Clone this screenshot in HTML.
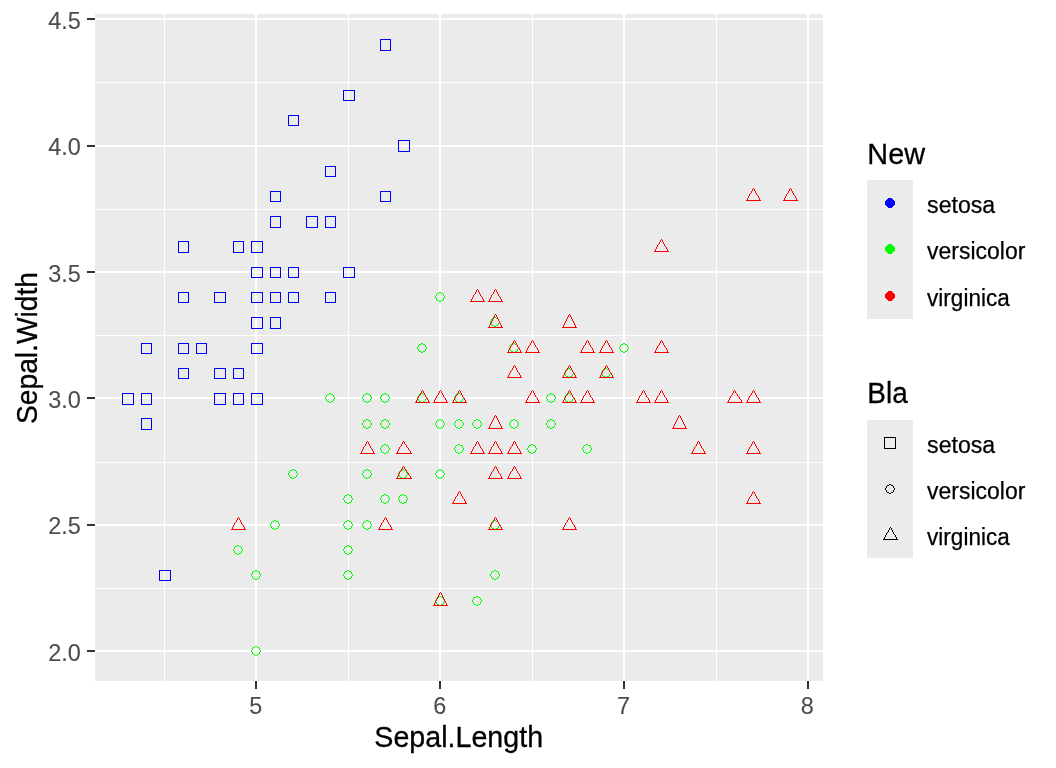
<!DOCTYPE html>
<html><head><meta charset="utf-8"><title>iris</title>
<style>html,body{margin:0;padding:0;background:#fff}svg{display:block}text{font-family:"Liberation Sans",sans-serif}</style>
</head><body>
<svg width="1056" height="768" viewBox="0 0 1056 768">
<rect width="1056" height="768" fill="#fff"/>
<rect x="95" y="14" width="728" height="667" fill="#EBEBEB" shape-rendering="crispEdges"/>
<g fill="#fff" shape-rendering="crispEdges">
<rect x="95" y="588" width="728" height="1"/>
<rect x="95" y="462" width="728" height="1"/>
<rect x="95" y="335" width="728" height="1"/>
<rect x="95" y="209" width="728" height="1"/>
<rect x="95" y="82" width="728" height="1"/>
<rect x="164" y="14" width="1" height="667"/>
<rect x="348" y="14" width="1" height="667"/>
<rect x="532" y="14" width="1" height="667"/>
<rect x="716" y="14" width="1" height="667"/>
<rect x="95" y="650" width="728" height="2"/>
<rect x="95" y="524" width="728" height="2"/>
<rect x="95" y="397" width="728" height="2"/>
<rect x="95" y="271" width="728" height="2"/>
<rect x="95" y="145" width="728" height="2"/>
<rect x="95" y="18" width="728" height="2"/>
<rect x="255" y="14" width="2" height="667"/>
<rect x="439" y="14" width="2" height="667"/>
<rect x="623" y="14" width="2" height="667"/>
<rect x="807" y="14" width="2" height="667"/>
</g>
<g fill="#333" shape-rendering="crispEdges">
<rect x="87" y="650" width="8" height="2"/>
<rect x="87" y="524" width="8" height="2"/>
<rect x="87" y="397" width="8" height="2"/>
<rect x="87" y="271" width="8" height="2"/>
<rect x="87" y="145" width="8" height="2"/>
<rect x="87" y="18" width="8" height="2"/>
<rect x="255" y="681" width="2" height="8"/>
<rect x="439" y="681" width="2" height="8"/>
<rect x="623" y="681" width="2" height="8"/>
<rect x="807" y="681" width="2" height="8"/>
</g>
<g fill="#4D4D4D" font-size="23.47px" stroke="#4D4D4D" stroke-width="0.1">
<text x="80.8" y="660.7" text-anchor="end">2.0</text>
<text x="80.8" y="534.3" text-anchor="end">2.5</text>
<text x="80.8" y="407.9" text-anchor="end">3.0</text>
<text x="80.8" y="281.5" text-anchor="end">3.5</text>
<text x="80.8" y="155.1" text-anchor="end">4.0</text>
<text x="80.8" y="28.7" text-anchor="end">4.5</text>
<text x="255.8" y="714" text-anchor="middle">5</text>
<text x="439.7" y="714" text-anchor="middle">6</text>
<text x="623.5" y="714" text-anchor="middle">7</text>
<text x="807.4" y="714" text-anchor="middle">8</text>
</g>
<text x="458.7" y="747.2" font-size="29.33px" text-anchor="middle" fill="#000" stroke="#000" stroke-width="0.3" textLength="168.8" lengthAdjust="spacingAndGlyphs">Sepal.Length</text>
<text transform="translate(37.1,348) rotate(-90)" font-size="29.33px" text-anchor="middle" fill="#000" stroke="#000" stroke-width="0.3" textLength="152.1" lengthAdjust="spacingAndGlyphs">Sepal.Width</text>
<g fill="none" stroke-width="1" shape-rendering="crispEdges">
<rect x="270.5" y="267.5" width="10" height="10" stroke="#0000FF"/>
<rect x="233.5" y="393.5" width="10" height="11" stroke="#0000FF"/>
<rect x="196.5" y="343.5" width="10" height="10" stroke="#0000FF"/>
<rect x="178.5" y="368.5" width="10" height="10" stroke="#0000FF"/>
<rect x="251.5" y="241.5" width="11" height="11" stroke="#0000FF"/>
<rect x="325.5" y="166.5" width="10" height="10" stroke="#0000FF"/>
<rect x="178.5" y="292.5" width="10" height="10" stroke="#0000FF"/>
<rect x="251.5" y="292.5" width="11" height="10" stroke="#0000FF"/>
<rect x="141.5" y="418.5" width="10" height="11" stroke="#0000FF"/>
<rect x="233.5" y="368.5" width="10" height="10" stroke="#0000FF"/>
<rect x="325.5" y="216.5" width="10" height="11" stroke="#0000FF"/>
<rect x="214.5" y="292.5" width="11" height="10" stroke="#0000FF"/>
<rect x="214.5" y="393.5" width="11" height="11" stroke="#0000FF"/>
<rect x="122.5" y="393.5" width="11" height="11" stroke="#0000FF"/>
<rect x="398.5" y="140.5" width="11" height="11" stroke="#0000FF"/>
<rect x="380.5" y="39.5" width="10" height="11" stroke="#0000FF"/>
<rect x="325.5" y="166.5" width="10" height="10" stroke="#0000FF"/>
<rect x="270.5" y="267.5" width="10" height="10" stroke="#0000FF"/>
<rect x="380.5" y="191.5" width="10" height="10" stroke="#0000FF"/>
<rect x="270.5" y="191.5" width="10" height="10" stroke="#0000FF"/>
<rect x="325.5" y="292.5" width="10" height="10" stroke="#0000FF"/>
<rect x="270.5" y="216.5" width="10" height="11" stroke="#0000FF"/>
<rect x="178.5" y="241.5" width="10" height="11" stroke="#0000FF"/>
<rect x="270.5" y="317.5" width="10" height="11" stroke="#0000FF"/>
<rect x="214.5" y="292.5" width="11" height="10" stroke="#0000FF"/>
<rect x="251.5" y="393.5" width="11" height="11" stroke="#0000FF"/>
<rect x="251.5" y="292.5" width="11" height="10" stroke="#0000FF"/>
<rect x="288.5" y="267.5" width="10" height="10" stroke="#0000FF"/>
<rect x="288.5" y="292.5" width="10" height="10" stroke="#0000FF"/>
<rect x="196.5" y="343.5" width="10" height="10" stroke="#0000FF"/>
<rect x="214.5" y="368.5" width="11" height="10" stroke="#0000FF"/>
<rect x="325.5" y="292.5" width="10" height="10" stroke="#0000FF"/>
<rect x="288.5" y="115.5" width="10" height="10" stroke="#0000FF"/>
<rect x="343.5" y="90.5" width="11" height="10" stroke="#0000FF"/>
<rect x="233.5" y="368.5" width="10" height="10" stroke="#0000FF"/>
<rect x="251.5" y="343.5" width="11" height="10" stroke="#0000FF"/>
<rect x="343.5" y="267.5" width="11" height="10" stroke="#0000FF"/>
<rect x="233.5" y="241.5" width="10" height="11" stroke="#0000FF"/>
<rect x="141.5" y="393.5" width="10" height="11" stroke="#0000FF"/>
<rect x="270.5" y="292.5" width="10" height="10" stroke="#0000FF"/>
<rect x="251.5" y="267.5" width="11" height="10" stroke="#0000FF"/>
<rect x="159.5" y="570.5" width="11" height="10" stroke="#0000FF"/>
<rect x="141.5" y="343.5" width="10" height="10" stroke="#0000FF"/>
<rect x="251.5" y="267.5" width="11" height="10" stroke="#0000FF"/>
<rect x="270.5" y="191.5" width="10" height="10" stroke="#0000FF"/>
<rect x="214.5" y="393.5" width="11" height="11" stroke="#0000FF"/>
<rect x="270.5" y="191.5" width="10" height="10" stroke="#0000FF"/>
<rect x="178.5" y="343.5" width="10" height="10" stroke="#0000FF"/>
<rect x="306.5" y="216.5" width="11" height="11" stroke="#0000FF"/>
<rect x="251.5" y="317.5" width="11" height="11" stroke="#0000FF"/>
<path d="M623 343h2v1h-2zM621 344h2v1h-2zM625 344h2v1h-2zM620 345h1v1h-1zM627 345h1v1h-1zM620 346h1v1h-1zM627 346h1v1h-1zM619 347h1v1h-1zM628 347h1v1h-1zM619 348h1v1h-1zM628 348h1v1h-1zM620 349h1v1h-1zM627 349h1v1h-1zM620 350h1v1h-1zM627 350h1v1h-1zM621 351h2v1h-2zM625 351h2v1h-2zM623 352h2v1h-2z" fill="#00FF00" stroke="none"/>
<path d="M513 343h2v1h-2zM511 344h2v1h-2zM515 344h2v1h-2zM510 345h1v1h-1zM517 345h1v1h-1zM510 346h1v1h-1zM517 346h1v1h-1zM509 347h1v1h-1zM518 347h1v1h-1zM509 348h1v1h-1zM518 348h1v1h-1zM510 349h1v1h-1zM517 349h1v1h-1zM510 350h1v1h-1zM517 350h1v1h-1zM511 351h2v1h-2zM515 351h2v1h-2zM513 352h2v1h-2z" fill="#00FF00" stroke="none"/>
<path d="M605 368h2v1h-2zM603 369h2v1h-2zM607 369h2v1h-2zM602 370h1v1h-1zM609 370h1v1h-1zM602 371h1v1h-1zM609 371h1v1h-1zM601 372h1v1h-1zM610 372h1v1h-1zM601 373h1v1h-1zM610 373h1v1h-1zM602 374h1v1h-1zM609 374h1v1h-1zM602 375h1v1h-1zM609 375h1v1h-1zM603 376h2v1h-2zM607 376h2v1h-2zM605 377h2v1h-2z" fill="#00FF00" stroke="none"/>
<path d="M347 570h2v1h-2zM345 571h2v1h-2zM349 571h2v1h-2zM344 572h1v1h-1zM351 572h1v1h-1zM344 573h1v1h-1zM351 573h1v1h-1zM343 574h1v1h-1zM352 574h1v1h-1zM343 575h1v1h-1zM352 575h1v1h-1zM344 576h1v1h-1zM351 576h1v1h-1zM344 577h1v1h-1zM351 577h1v1h-1zM345 578h2v1h-2zM349 578h2v1h-2zM347 579h2v1h-2z" fill="#00FF00" stroke="none"/>
<path d="M531 444h2v1h-2zM529 445h2v1h-2zM533 445h2v1h-2zM528 446h1v1h-1zM535 446h1v1h-1zM528 447h1v1h-1zM535 447h1v1h-1zM527 448h1v1h-1zM536 448h1v1h-1zM527 449h1v1h-1zM536 449h1v1h-1zM528 450h1v1h-1zM535 450h1v1h-1zM528 451h1v1h-1zM535 451h1v1h-1zM529 452h2v1h-2zM533 452h2v1h-2zM531 453h2v1h-2z" fill="#00FF00" stroke="none"/>
<path d="M384 444h2v1h-2zM382 445h2v1h-2zM386 445h2v1h-2zM381 446h1v1h-1zM388 446h1v1h-1zM381 447h1v1h-1zM388 447h1v1h-1zM380 448h1v1h-1zM389 448h1v1h-1zM380 449h1v1h-1zM389 449h1v1h-1zM381 450h1v1h-1zM388 450h1v1h-1zM381 451h1v1h-1zM388 451h1v1h-1zM382 452h2v1h-2zM386 452h2v1h-2zM384 453h2v1h-2z" fill="#00FF00" stroke="none"/>
<path d="M494 317h2v1h-2zM492 318h2v1h-2zM496 318h2v1h-2zM491 319h1v1h-1zM498 319h1v1h-1zM491 320h1v1h-1zM498 320h1v1h-1zM490 321h1v1h-1zM499 321h1v1h-1zM490 322h1v1h-1zM499 322h1v1h-1zM491 323h1v1h-1zM498 323h1v1h-1zM491 324h1v1h-1zM498 324h1v1h-1zM492 325h2v1h-2zM496 325h2v1h-2zM494 326h2v1h-2z" fill="#00FF00" stroke="none"/>
<path d="M237 545h2v1h-2zM235 546h2v1h-2zM239 546h2v1h-2zM234 547h1v1h-1zM241 547h1v1h-1zM234 548h1v1h-1zM241 548h1v1h-1zM233 549h1v1h-1zM242 549h1v1h-1zM233 550h1v1h-1zM242 550h1v1h-1zM234 551h1v1h-1zM241 551h1v1h-1zM234 552h1v1h-1zM241 552h1v1h-1zM235 553h2v1h-2zM239 553h2v1h-2zM237 554h2v1h-2z" fill="#00FF00" stroke="none"/>
<path d="M550 419h2v1h-2zM548 420h2v1h-2zM552 420h2v1h-2zM547 421h1v1h-1zM554 421h1v1h-1zM547 422h1v1h-1zM554 422h1v1h-1zM546 423h1v1h-1zM555 423h1v1h-1zM546 424h1v1h-1zM555 424h1v1h-1zM547 425h1v1h-1zM554 425h1v1h-1zM547 426h1v1h-1zM554 426h1v1h-1zM548 427h2v1h-2zM552 427h2v1h-2zM550 428h2v1h-2z" fill="#00FF00" stroke="none"/>
<path d="M292 469h2v1h-2zM290 470h2v1h-2zM294 470h2v1h-2zM289 471h1v1h-1zM296 471h1v1h-1zM289 472h1v1h-1zM296 472h1v1h-1zM288 473h1v1h-1zM297 473h1v1h-1zM288 474h1v1h-1zM297 474h1v1h-1zM289 475h1v1h-1zM296 475h1v1h-1zM289 476h1v1h-1zM296 476h1v1h-1zM290 477h2v1h-2zM294 477h2v1h-2zM292 478h2v1h-2z" fill="#00FF00" stroke="none"/>
<path d="M255 646h2v1h-2zM253 647h2v1h-2zM257 647h2v1h-2zM252 648h1v1h-1zM259 648h1v1h-1zM252 649h1v1h-1zM259 649h1v1h-1zM251 650h1v1h-1zM260 650h1v1h-1zM251 651h1v1h-1zM260 651h1v1h-1zM252 652h1v1h-1zM259 652h1v1h-1zM252 653h1v1h-1zM259 653h1v1h-1zM253 654h2v1h-2zM257 654h2v1h-2zM255 655h2v1h-2z" fill="#00FF00" stroke="none"/>
<path d="M421 393h2v1h-2zM419 394h2v1h-2zM423 394h2v1h-2zM418 395h1v1h-1zM425 395h1v1h-1zM418 396h1v1h-1zM425 396h1v1h-1zM417 397h1v1h-1zM426 397h1v1h-1zM417 398h1v1h-1zM426 398h1v1h-1zM418 399h1v1h-1zM425 399h1v1h-1zM418 400h1v1h-1zM425 400h1v1h-1zM419 401h2v1h-2zM423 401h2v1h-2zM421 402h2v1h-2z" fill="#00FF00" stroke="none"/>
<path d="M439 596h2v1h-2zM437 597h2v1h-2zM441 597h2v1h-2zM436 598h1v1h-1zM443 598h1v1h-1zM436 599h1v1h-1zM443 599h1v1h-1zM435 600h1v1h-1zM444 600h1v1h-1zM435 601h1v1h-1zM444 601h1v1h-1zM436 602h1v1h-1zM443 602h1v1h-1zM436 603h1v1h-1zM443 603h1v1h-1zM437 604h2v1h-2zM441 604h2v1h-2zM439 605h2v1h-2z" fill="#00FF00" stroke="none"/>
<path d="M458 419h2v1h-2zM456 420h2v1h-2zM460 420h2v1h-2zM455 421h1v1h-1zM462 421h1v1h-1zM455 422h1v1h-1zM462 422h1v1h-1zM454 423h1v1h-1zM463 423h1v1h-1zM454 424h1v1h-1zM463 424h1v1h-1zM455 425h1v1h-1zM462 425h1v1h-1zM455 426h1v1h-1zM462 426h1v1h-1zM456 427h2v1h-2zM460 427h2v1h-2zM458 428h2v1h-2z" fill="#00FF00" stroke="none"/>
<path d="M366 419h2v1h-2zM364 420h2v1h-2zM368 420h2v1h-2zM363 421h1v1h-1zM370 421h1v1h-1zM363 422h1v1h-1zM370 422h1v1h-1zM362 423h1v1h-1zM371 423h1v1h-1zM362 424h1v1h-1zM371 424h1v1h-1zM363 425h1v1h-1zM370 425h1v1h-1zM363 426h1v1h-1zM370 426h1v1h-1zM364 427h2v1h-2zM368 427h2v1h-2zM366 428h2v1h-2z" fill="#00FF00" stroke="none"/>
<path d="M568 368h2v1h-2zM566 369h2v1h-2zM570 369h2v1h-2zM565 370h1v1h-1zM572 370h1v1h-1zM565 371h1v1h-1zM572 371h1v1h-1zM564 372h1v1h-1zM573 372h1v1h-1zM564 373h1v1h-1zM573 373h1v1h-1zM565 374h1v1h-1zM572 374h1v1h-1zM565 375h1v1h-1zM572 375h1v1h-1zM566 376h2v1h-2zM570 376h2v1h-2zM568 377h2v1h-2z" fill="#00FF00" stroke="none"/>
<path d="M366 393h2v1h-2zM364 394h2v1h-2zM368 394h2v1h-2zM363 395h1v1h-1zM370 395h1v1h-1zM363 396h1v1h-1zM370 396h1v1h-1zM362 397h1v1h-1zM371 397h1v1h-1zM362 398h1v1h-1zM371 398h1v1h-1zM363 399h1v1h-1zM370 399h1v1h-1zM363 400h1v1h-1zM370 400h1v1h-1zM364 401h2v1h-2zM368 401h2v1h-2zM366 402h2v1h-2z" fill="#00FF00" stroke="none"/>
<path d="M402 469h2v1h-2zM400 470h2v1h-2zM404 470h2v1h-2zM399 471h1v1h-1zM406 471h1v1h-1zM399 472h1v1h-1zM406 472h1v1h-1zM398 473h1v1h-1zM407 473h1v1h-1zM398 474h1v1h-1zM407 474h1v1h-1zM399 475h1v1h-1zM406 475h1v1h-1zM399 476h1v1h-1zM406 476h1v1h-1zM400 477h2v1h-2zM404 477h2v1h-2zM402 478h2v1h-2z" fill="#00FF00" stroke="none"/>
<path d="M476 596h2v1h-2zM474 597h2v1h-2zM478 597h2v1h-2zM473 598h1v1h-1zM480 598h1v1h-1zM473 599h1v1h-1zM480 599h1v1h-1zM472 600h1v1h-1zM481 600h1v1h-1zM472 601h1v1h-1zM481 601h1v1h-1zM473 602h1v1h-1zM480 602h1v1h-1zM473 603h1v1h-1zM480 603h1v1h-1zM474 604h2v1h-2zM478 604h2v1h-2zM476 605h2v1h-2z" fill="#00FF00" stroke="none"/>
<path d="M366 520h2v1h-2zM364 521h2v1h-2zM368 521h2v1h-2zM363 522h1v1h-1zM370 522h1v1h-1zM363 523h1v1h-1zM370 523h1v1h-1zM362 524h1v1h-1zM371 524h1v1h-1zM362 525h1v1h-1zM371 525h1v1h-1zM363 526h1v1h-1zM370 526h1v1h-1zM363 527h1v1h-1zM370 527h1v1h-1zM364 528h2v1h-2zM368 528h2v1h-2zM366 529h2v1h-2z" fill="#00FF00" stroke="none"/>
<path d="M421 343h2v1h-2zM419 344h2v1h-2zM423 344h2v1h-2zM418 345h1v1h-1zM425 345h1v1h-1zM418 346h1v1h-1zM425 346h1v1h-1zM417 347h1v1h-1zM426 347h1v1h-1zM417 348h1v1h-1zM426 348h1v1h-1zM418 349h1v1h-1zM425 349h1v1h-1zM418 350h1v1h-1zM425 350h1v1h-1zM419 351h2v1h-2zM423 351h2v1h-2zM421 352h2v1h-2z" fill="#00FF00" stroke="none"/>
<path d="M458 444h2v1h-2zM456 445h2v1h-2zM460 445h2v1h-2zM455 446h1v1h-1zM462 446h1v1h-1zM455 447h1v1h-1zM462 447h1v1h-1zM454 448h1v1h-1zM463 448h1v1h-1zM454 449h1v1h-1zM463 449h1v1h-1zM455 450h1v1h-1zM462 450h1v1h-1zM455 451h1v1h-1zM462 451h1v1h-1zM456 452h2v1h-2zM460 452h2v1h-2zM458 453h2v1h-2z" fill="#00FF00" stroke="none"/>
<path d="M494 520h2v1h-2zM492 521h2v1h-2zM496 521h2v1h-2zM491 522h1v1h-1zM498 522h1v1h-1zM491 523h1v1h-1zM498 523h1v1h-1zM490 524h1v1h-1zM499 524h1v1h-1zM490 525h1v1h-1zM499 525h1v1h-1zM491 526h1v1h-1zM498 526h1v1h-1zM491 527h1v1h-1zM498 527h1v1h-1zM492 528h2v1h-2zM496 528h2v1h-2zM494 529h2v1h-2z" fill="#00FF00" stroke="none"/>
<path d="M458 444h2v1h-2zM456 445h2v1h-2zM460 445h2v1h-2zM455 446h1v1h-1zM462 446h1v1h-1zM455 447h1v1h-1zM462 447h1v1h-1zM454 448h1v1h-1zM463 448h1v1h-1zM454 449h1v1h-1zM463 449h1v1h-1zM455 450h1v1h-1zM462 450h1v1h-1zM455 451h1v1h-1zM462 451h1v1h-1zM456 452h2v1h-2zM460 452h2v1h-2zM458 453h2v1h-2z" fill="#00FF00" stroke="none"/>
<path d="M513 419h2v1h-2zM511 420h2v1h-2zM515 420h2v1h-2zM510 421h1v1h-1zM517 421h1v1h-1zM510 422h1v1h-1zM517 422h1v1h-1zM509 423h1v1h-1zM518 423h1v1h-1zM509 424h1v1h-1zM518 424h1v1h-1zM510 425h1v1h-1zM517 425h1v1h-1zM510 426h1v1h-1zM517 426h1v1h-1zM511 427h2v1h-2zM515 427h2v1h-2zM513 428h2v1h-2z" fill="#00FF00" stroke="none"/>
<path d="M550 393h2v1h-2zM548 394h2v1h-2zM552 394h2v1h-2zM547 395h1v1h-1zM554 395h1v1h-1zM547 396h1v1h-1zM554 396h1v1h-1zM546 397h1v1h-1zM555 397h1v1h-1zM546 398h1v1h-1zM555 398h1v1h-1zM547 399h1v1h-1zM554 399h1v1h-1zM547 400h1v1h-1zM554 400h1v1h-1zM548 401h2v1h-2zM552 401h2v1h-2zM550 402h2v1h-2z" fill="#00FF00" stroke="none"/>
<path d="M586 444h2v1h-2zM584 445h2v1h-2zM588 445h2v1h-2zM583 446h1v1h-1zM590 446h1v1h-1zM583 447h1v1h-1zM590 447h1v1h-1zM582 448h1v1h-1zM591 448h1v1h-1zM582 449h1v1h-1zM591 449h1v1h-1zM583 450h1v1h-1zM590 450h1v1h-1zM583 451h1v1h-1zM590 451h1v1h-1zM584 452h2v1h-2zM588 452h2v1h-2zM586 453h2v1h-2z" fill="#00FF00" stroke="none"/>
<path d="M568 393h2v1h-2zM566 394h2v1h-2zM570 394h2v1h-2zM565 395h1v1h-1zM572 395h1v1h-1zM565 396h1v1h-1zM572 396h1v1h-1zM564 397h1v1h-1zM573 397h1v1h-1zM564 398h1v1h-1zM573 398h1v1h-1zM565 399h1v1h-1zM572 399h1v1h-1zM565 400h1v1h-1zM572 400h1v1h-1zM566 401h2v1h-2zM570 401h2v1h-2zM568 402h2v1h-2z" fill="#00FF00" stroke="none"/>
<path d="M439 419h2v1h-2zM437 420h2v1h-2zM441 420h2v1h-2zM436 421h1v1h-1zM443 421h1v1h-1zM436 422h1v1h-1zM443 422h1v1h-1zM435 423h1v1h-1zM444 423h1v1h-1zM435 424h1v1h-1zM444 424h1v1h-1zM436 425h1v1h-1zM443 425h1v1h-1zM436 426h1v1h-1zM443 426h1v1h-1zM437 427h2v1h-2zM441 427h2v1h-2zM439 428h2v1h-2z" fill="#00FF00" stroke="none"/>
<path d="M384 494h2v1h-2zM382 495h2v1h-2zM386 495h2v1h-2zM381 496h1v1h-1zM388 496h1v1h-1zM381 497h1v1h-1zM388 497h1v1h-1zM380 498h1v1h-1zM389 498h1v1h-1zM380 499h1v1h-1zM389 499h1v1h-1zM381 500h1v1h-1zM388 500h1v1h-1zM381 501h1v1h-1zM388 501h1v1h-1zM382 502h2v1h-2zM386 502h2v1h-2zM384 503h2v1h-2z" fill="#00FF00" stroke="none"/>
<path d="M347 545h2v1h-2zM345 546h2v1h-2zM349 546h2v1h-2zM344 547h1v1h-1zM351 547h1v1h-1zM344 548h1v1h-1zM351 548h1v1h-1zM343 549h1v1h-1zM352 549h1v1h-1zM343 550h1v1h-1zM352 550h1v1h-1zM344 551h1v1h-1zM351 551h1v1h-1zM344 552h1v1h-1zM351 552h1v1h-1zM345 553h2v1h-2zM349 553h2v1h-2zM347 554h2v1h-2z" fill="#00FF00" stroke="none"/>
<path d="M347 545h2v1h-2zM345 546h2v1h-2zM349 546h2v1h-2zM344 547h1v1h-1zM351 547h1v1h-1zM344 548h1v1h-1zM351 548h1v1h-1zM343 549h1v1h-1zM352 549h1v1h-1zM343 550h1v1h-1zM352 550h1v1h-1zM344 551h1v1h-1zM351 551h1v1h-1zM344 552h1v1h-1zM351 552h1v1h-1zM345 553h2v1h-2zM349 553h2v1h-2zM347 554h2v1h-2z" fill="#00FF00" stroke="none"/>
<path d="M402 469h2v1h-2zM400 470h2v1h-2zM404 470h2v1h-2zM399 471h1v1h-1zM406 471h1v1h-1zM399 472h1v1h-1zM406 472h1v1h-1zM398 473h1v1h-1zM407 473h1v1h-1zM398 474h1v1h-1zM407 474h1v1h-1zM399 475h1v1h-1zM406 475h1v1h-1zM399 476h1v1h-1zM406 476h1v1h-1zM400 477h2v1h-2zM404 477h2v1h-2zM402 478h2v1h-2z" fill="#00FF00" stroke="none"/>
<path d="M439 469h2v1h-2zM437 470h2v1h-2zM441 470h2v1h-2zM436 471h1v1h-1zM443 471h1v1h-1zM436 472h1v1h-1zM443 472h1v1h-1zM435 473h1v1h-1zM444 473h1v1h-1zM435 474h1v1h-1zM444 474h1v1h-1zM436 475h1v1h-1zM443 475h1v1h-1zM436 476h1v1h-1zM443 476h1v1h-1zM437 477h2v1h-2zM441 477h2v1h-2zM439 478h2v1h-2z" fill="#00FF00" stroke="none"/>
<path d="M329 393h2v1h-2zM327 394h2v1h-2zM331 394h2v1h-2zM326 395h1v1h-1zM333 395h1v1h-1zM326 396h1v1h-1zM333 396h1v1h-1zM325 397h1v1h-1zM334 397h1v1h-1zM325 398h1v1h-1zM334 398h1v1h-1zM326 399h1v1h-1zM333 399h1v1h-1zM326 400h1v1h-1zM333 400h1v1h-1zM327 401h2v1h-2zM331 401h2v1h-2zM329 402h2v1h-2z" fill="#00FF00" stroke="none"/>
<path d="M439 292h2v1h-2zM437 293h2v1h-2zM441 293h2v1h-2zM436 294h1v1h-1zM443 294h1v1h-1zM436 295h1v1h-1zM443 295h1v1h-1zM435 296h1v1h-1zM444 296h1v1h-1zM435 297h1v1h-1zM444 297h1v1h-1zM436 298h1v1h-1zM443 298h1v1h-1zM436 299h1v1h-1zM443 299h1v1h-1zM437 300h2v1h-2zM441 300h2v1h-2zM439 301h2v1h-2z" fill="#00FF00" stroke="none"/>
<path d="M568 368h2v1h-2zM566 369h2v1h-2zM570 369h2v1h-2zM565 370h1v1h-1zM572 370h1v1h-1zM565 371h1v1h-1zM572 371h1v1h-1zM564 372h1v1h-1zM573 372h1v1h-1zM564 373h1v1h-1zM573 373h1v1h-1zM565 374h1v1h-1zM572 374h1v1h-1zM565 375h1v1h-1zM572 375h1v1h-1zM566 376h2v1h-2zM570 376h2v1h-2zM568 377h2v1h-2z" fill="#00FF00" stroke="none"/>
<path d="M494 570h2v1h-2zM492 571h2v1h-2zM496 571h2v1h-2zM491 572h1v1h-1zM498 572h1v1h-1zM491 573h1v1h-1zM498 573h1v1h-1zM490 574h1v1h-1zM499 574h1v1h-1zM490 575h1v1h-1zM499 575h1v1h-1zM491 576h1v1h-1zM498 576h1v1h-1zM491 577h1v1h-1zM498 577h1v1h-1zM492 578h2v1h-2zM496 578h2v1h-2zM494 579h2v1h-2z" fill="#00FF00" stroke="none"/>
<path d="M366 393h2v1h-2zM364 394h2v1h-2zM368 394h2v1h-2zM363 395h1v1h-1zM370 395h1v1h-1zM363 396h1v1h-1zM370 396h1v1h-1zM362 397h1v1h-1zM371 397h1v1h-1zM362 398h1v1h-1zM371 398h1v1h-1zM363 399h1v1h-1zM370 399h1v1h-1zM363 400h1v1h-1zM370 400h1v1h-1zM364 401h2v1h-2zM368 401h2v1h-2zM366 402h2v1h-2z" fill="#00FF00" stroke="none"/>
<path d="M347 520h2v1h-2zM345 521h2v1h-2zM349 521h2v1h-2zM344 522h1v1h-1zM351 522h1v1h-1zM344 523h1v1h-1zM351 523h1v1h-1zM343 524h1v1h-1zM352 524h1v1h-1zM343 525h1v1h-1zM352 525h1v1h-1zM344 526h1v1h-1zM351 526h1v1h-1zM344 527h1v1h-1zM351 527h1v1h-1zM345 528h2v1h-2zM349 528h2v1h-2zM347 529h2v1h-2z" fill="#00FF00" stroke="none"/>
<path d="M347 494h2v1h-2zM345 495h2v1h-2zM349 495h2v1h-2zM344 496h1v1h-1zM351 496h1v1h-1zM344 497h1v1h-1zM351 497h1v1h-1zM343 498h1v1h-1zM352 498h1v1h-1zM343 499h1v1h-1zM352 499h1v1h-1zM344 500h1v1h-1zM351 500h1v1h-1zM344 501h1v1h-1zM351 501h1v1h-1zM345 502h2v1h-2zM349 502h2v1h-2zM347 503h2v1h-2z" fill="#00FF00" stroke="none"/>
<path d="M458 393h2v1h-2zM456 394h2v1h-2zM460 394h2v1h-2zM455 395h1v1h-1zM462 395h1v1h-1zM455 396h1v1h-1zM462 396h1v1h-1zM454 397h1v1h-1zM463 397h1v1h-1zM454 398h1v1h-1zM463 398h1v1h-1zM455 399h1v1h-1zM462 399h1v1h-1zM455 400h1v1h-1zM462 400h1v1h-1zM456 401h2v1h-2zM460 401h2v1h-2zM458 402h2v1h-2z" fill="#00FF00" stroke="none"/>
<path d="M402 494h2v1h-2zM400 495h2v1h-2zM404 495h2v1h-2zM399 496h1v1h-1zM406 496h1v1h-1zM399 497h1v1h-1zM406 497h1v1h-1zM398 498h1v1h-1zM407 498h1v1h-1zM398 499h1v1h-1zM407 499h1v1h-1zM399 500h1v1h-1zM406 500h1v1h-1zM399 501h1v1h-1zM406 501h1v1h-1zM400 502h2v1h-2zM404 502h2v1h-2zM402 503h2v1h-2z" fill="#00FF00" stroke="none"/>
<path d="M255 570h2v1h-2zM253 571h2v1h-2zM257 571h2v1h-2zM252 572h1v1h-1zM259 572h1v1h-1zM252 573h1v1h-1zM259 573h1v1h-1zM251 574h1v1h-1zM260 574h1v1h-1zM251 575h1v1h-1zM260 575h1v1h-1zM252 576h1v1h-1zM259 576h1v1h-1zM252 577h1v1h-1zM259 577h1v1h-1zM253 578h2v1h-2zM257 578h2v1h-2zM255 579h2v1h-2z" fill="#00FF00" stroke="none"/>
<path d="M366 469h2v1h-2zM364 470h2v1h-2zM368 470h2v1h-2zM363 471h1v1h-1zM370 471h1v1h-1zM363 472h1v1h-1zM370 472h1v1h-1zM362 473h1v1h-1zM371 473h1v1h-1zM362 474h1v1h-1zM371 474h1v1h-1zM363 475h1v1h-1zM370 475h1v1h-1zM363 476h1v1h-1zM370 476h1v1h-1zM364 477h2v1h-2zM368 477h2v1h-2zM366 478h2v1h-2z" fill="#00FF00" stroke="none"/>
<path d="M384 393h2v1h-2zM382 394h2v1h-2zM386 394h2v1h-2zM381 395h1v1h-1zM388 395h1v1h-1zM381 396h1v1h-1zM388 396h1v1h-1zM380 397h1v1h-1zM389 397h1v1h-1zM380 398h1v1h-1zM389 398h1v1h-1zM381 399h1v1h-1zM388 399h1v1h-1zM381 400h1v1h-1zM388 400h1v1h-1zM382 401h2v1h-2zM386 401h2v1h-2zM384 402h2v1h-2z" fill="#00FF00" stroke="none"/>
<path d="M384 419h2v1h-2zM382 420h2v1h-2zM386 420h2v1h-2zM381 421h1v1h-1zM388 421h1v1h-1zM381 422h1v1h-1zM388 422h1v1h-1zM380 423h1v1h-1zM389 423h1v1h-1zM380 424h1v1h-1zM389 424h1v1h-1zM381 425h1v1h-1zM388 425h1v1h-1zM381 426h1v1h-1zM388 426h1v1h-1zM382 427h2v1h-2zM386 427h2v1h-2zM384 428h2v1h-2z" fill="#00FF00" stroke="none"/>
<path d="M476 419h2v1h-2zM474 420h2v1h-2zM478 420h2v1h-2zM473 421h1v1h-1zM480 421h1v1h-1zM473 422h1v1h-1zM480 422h1v1h-1zM472 423h1v1h-1zM481 423h1v1h-1zM472 424h1v1h-1zM481 424h1v1h-1zM473 425h1v1h-1zM480 425h1v1h-1zM473 426h1v1h-1zM480 426h1v1h-1zM474 427h2v1h-2zM478 427h2v1h-2zM476 428h2v1h-2z" fill="#00FF00" stroke="none"/>
<path d="M274 520h2v1h-2zM272 521h2v1h-2zM276 521h2v1h-2zM271 522h1v1h-1zM278 522h1v1h-1zM271 523h1v1h-1zM278 523h1v1h-1zM270 524h1v1h-1zM279 524h1v1h-1zM270 525h1v1h-1zM279 525h1v1h-1zM271 526h1v1h-1zM278 526h1v1h-1zM271 527h1v1h-1zM278 527h1v1h-1zM272 528h2v1h-2zM276 528h2v1h-2zM274 529h2v1h-2z" fill="#00FF00" stroke="none"/>
<path d="M384 444h2v1h-2zM382 445h2v1h-2zM386 445h2v1h-2zM381 446h1v1h-1zM388 446h1v1h-1zM381 447h1v1h-1zM388 447h1v1h-1zM380 448h1v1h-1zM389 448h1v1h-1zM380 449h1v1h-1zM389 449h1v1h-1zM381 450h1v1h-1zM388 450h1v1h-1zM381 451h1v1h-1zM388 451h1v1h-1zM382 452h2v1h-2zM386 452h2v1h-2zM384 453h2v1h-2z" fill="#00FF00" stroke="none"/>
<path d="M495 314h1v1h-1zM494 315h1v1h-1zM496 315h1v1h-1zM494 316h1v1h-1zM496 316h1v1h-1zM493 317h1v1h-1zM497 317h1v1h-1zM493 318h1v1h-1zM497 318h1v1h-1zM492 319h1v1h-1zM498 319h1v1h-1zM492 320h1v1h-1zM498 320h1v1h-1zM491 321h1v1h-1zM499 321h1v1h-1zM491 322h1v1h-1zM499 322h1v1h-1zM490 323h1v1h-1zM500 323h1v1h-1zM490 324h1v1h-1zM500 324h1v1h-1zM489 325h1v1h-1zM501 325h1v1h-1zM489 326h1v1h-1zM501 326h1v1h-1zM488 327h15v1h-15z" fill="#FF0000" stroke="none"/>
<path d="M403 466h1v1h-1zM402 467h1v1h-1zM404 467h1v1h-1zM402 468h1v1h-1zM404 468h1v1h-1zM401 469h1v1h-1zM405 469h1v1h-1zM401 470h1v1h-1zM406 470h1v1h-1zM400 471h1v1h-1zM406 471h1v1h-1zM399 472h1v1h-1zM407 472h1v1h-1zM399 473h1v1h-1zM408 473h1v1h-1zM398 474h1v1h-1zM408 474h1v1h-1zM398 475h1v1h-1zM409 475h1v1h-1zM397 476h1v1h-1zM410 476h1v1h-1zM397 477h1v1h-1zM410 477h1v1h-1zM396 478h16v1h-16z" fill="#FF0000" stroke="none"/>
<path d="M643 390h1v1h-1zM642 391h1v1h-1zM644 391h1v1h-1zM642 392h1v1h-1zM644 392h1v1h-1zM641 393h1v1h-1zM645 393h1v1h-1zM641 394h1v1h-1zM645 394h1v1h-1zM640 395h1v1h-1zM646 395h1v1h-1zM639 396h1v1h-1zM646 396h1v1h-1zM639 397h1v1h-1zM647 397h1v1h-1zM638 398h1v1h-1zM648 398h1v1h-1zM638 399h1v1h-1zM648 399h1v1h-1zM637 400h1v1h-1zM649 400h1v1h-1zM637 401h1v1h-1zM649 401h1v1h-1zM636 402h15v1h-15z" fill="#FF0000" stroke="none"/>
<path d="M495 415h1v1h-1zM494 416h1v1h-1zM496 416h1v1h-1zM494 417h1v1h-1zM496 417h1v1h-1zM493 418h1v1h-1zM497 418h1v1h-1zM493 419h1v1h-1zM497 419h1v1h-1zM492 420h1v1h-1zM498 420h1v1h-1zM492 421h1v1h-1zM498 421h1v1h-1zM491 422h1v1h-1zM499 422h1v1h-1zM491 423h1v1h-1zM499 423h1v1h-1zM490 424h1v1h-1zM500 424h1v1h-1zM490 425h1v1h-1zM500 425h1v1h-1zM489 426h1v1h-1zM501 426h1v1h-1zM489 427h1v1h-1zM501 427h1v1h-1zM488 428h15v1h-15z" fill="#FF0000" stroke="none"/>
<path d="M532 390h1v1h-1zM531 391h1v1h-1zM533 391h1v1h-1zM531 392h1v1h-1zM533 392h1v1h-1zM530 393h1v1h-1zM534 393h1v1h-1zM530 394h1v1h-1zM534 394h1v1h-1zM529 395h1v1h-1zM535 395h1v1h-1zM528 396h1v1h-1zM535 396h1v1h-1zM528 397h1v1h-1zM536 397h1v1h-1zM527 398h1v1h-1zM537 398h1v1h-1zM527 399h1v1h-1zM537 399h1v1h-1zM526 400h1v1h-1zM538 400h1v1h-1zM526 401h1v1h-1zM538 401h1v1h-1zM525 402h15v1h-15z" fill="#FF0000" stroke="none"/>
<path d="M734 390h1v1h-1zM733 391h1v1h-1zM735 391h1v1h-1zM733 392h1v1h-1zM735 392h1v1h-1zM732 393h1v1h-1zM736 393h1v1h-1zM732 394h1v1h-1zM737 394h1v1h-1zM731 395h1v1h-1zM737 395h1v1h-1zM730 396h1v1h-1zM738 396h1v1h-1zM730 397h1v1h-1zM739 397h1v1h-1zM729 398h1v1h-1zM739 398h1v1h-1zM729 399h1v1h-1zM740 399h1v1h-1zM728 400h1v1h-1zM741 400h1v1h-1zM728 401h1v1h-1zM741 401h1v1h-1zM727 402h16v1h-16z" fill="#FF0000" stroke="none"/>
<path d="M238 517h1v1h-1zM237 518h1v1h-1zM239 518h1v1h-1zM237 519h1v1h-1zM239 519h1v1h-1zM236 520h1v1h-1zM240 520h1v1h-1zM236 521h1v1h-1zM240 521h1v1h-1zM235 522h1v1h-1zM241 522h1v1h-1zM234 523h1v1h-1zM241 523h1v1h-1zM234 524h1v1h-1zM242 524h1v1h-1zM233 525h1v1h-1zM243 525h1v1h-1zM233 526h1v1h-1zM243 526h1v1h-1zM232 527h1v1h-1zM244 527h1v1h-1zM232 528h1v1h-1zM244 528h1v1h-1zM231 529h15v1h-15z" fill="#FF0000" stroke="none"/>
<path d="M679 415h1v1h-1zM678 416h1v1h-1zM680 416h1v1h-1zM678 417h1v1h-1zM680 417h1v1h-1zM677 418h1v1h-1zM681 418h1v1h-1zM677 419h1v1h-1zM681 419h1v1h-1zM676 420h1v1h-1zM682 420h1v1h-1zM676 421h1v1h-1zM682 421h1v1h-1zM675 422h1v1h-1zM683 422h1v1h-1zM675 423h1v1h-1zM683 423h1v1h-1zM674 424h1v1h-1zM684 424h1v1h-1zM674 425h1v1h-1zM684 425h1v1h-1zM673 426h1v1h-1zM685 426h1v1h-1zM673 427h1v1h-1zM685 427h1v1h-1zM672 428h15v1h-15z" fill="#FF0000" stroke="none"/>
<path d="M569 517h1v1h-1zM568 518h1v1h-1zM570 518h1v1h-1zM568 519h1v1h-1zM570 519h1v1h-1zM567 520h1v1h-1zM571 520h1v1h-1zM567 521h1v1h-1zM571 521h1v1h-1zM566 522h1v1h-1zM572 522h1v1h-1zM565 523h1v1h-1zM572 523h1v1h-1zM565 524h1v1h-1zM573 524h1v1h-1zM564 525h1v1h-1zM574 525h1v1h-1zM564 526h1v1h-1zM574 526h1v1h-1zM563 527h1v1h-1zM575 527h1v1h-1zM563 528h1v1h-1zM575 528h1v1h-1zM562 529h15v1h-15z" fill="#FF0000" stroke="none"/>
<path d="M661 239h1v1h-1zM660 240h1v1h-1zM662 240h1v1h-1zM660 241h1v1h-1zM662 241h1v1h-1zM659 242h1v1h-1zM663 242h1v1h-1zM659 243h1v1h-1zM663 243h1v1h-1zM658 244h1v1h-1zM664 244h1v1h-1zM657 245h1v1h-1zM664 245h1v1h-1zM657 246h1v1h-1zM665 246h1v1h-1zM656 247h1v1h-1zM666 247h1v1h-1zM656 248h1v1h-1zM666 248h1v1h-1zM655 249h1v1h-1zM667 249h1v1h-1zM655 250h1v1h-1zM667 250h1v1h-1zM654 251h15v1h-15z" fill="#FF0000" stroke="none"/>
<path d="M532 340h1v1h-1zM531 341h1v1h-1zM533 341h1v1h-1zM531 342h1v1h-1zM533 342h1v1h-1zM530 343h1v1h-1zM534 343h1v1h-1zM530 344h1v1h-1zM534 344h1v1h-1zM529 345h1v1h-1zM535 345h1v1h-1zM528 346h1v1h-1zM535 346h1v1h-1zM528 347h1v1h-1zM536 347h1v1h-1zM527 348h1v1h-1zM537 348h1v1h-1zM527 349h1v1h-1zM537 349h1v1h-1zM526 350h1v1h-1zM538 350h1v1h-1zM526 351h1v1h-1zM538 351h1v1h-1zM525 352h15v1h-15z" fill="#FF0000" stroke="none"/>
<path d="M514 466h1v1h-1zM513 467h1v1h-1zM515 467h1v1h-1zM513 468h1v1h-1zM515 468h1v1h-1zM512 469h1v1h-1zM516 469h1v1h-1zM512 470h1v1h-1zM516 470h1v1h-1zM511 471h1v1h-1zM517 471h1v1h-1zM510 472h1v1h-1zM517 472h1v1h-1zM510 473h1v1h-1zM518 473h1v1h-1zM509 474h1v1h-1zM519 474h1v1h-1zM509 475h1v1h-1zM519 475h1v1h-1zM508 476h1v1h-1zM520 476h1v1h-1zM508 477h1v1h-1zM520 477h1v1h-1zM507 478h15v1h-15z" fill="#FF0000" stroke="none"/>
<path d="M587 390h1v1h-1zM586 391h1v1h-1zM588 391h1v1h-1zM586 392h1v1h-1zM588 392h1v1h-1zM585 393h1v1h-1zM589 393h1v1h-1zM585 394h1v1h-1zM589 394h1v1h-1zM584 395h1v1h-1zM590 395h1v1h-1zM583 396h1v1h-1zM590 396h1v1h-1zM583 397h1v1h-1zM591 397h1v1h-1zM582 398h1v1h-1zM592 398h1v1h-1zM582 399h1v1h-1zM592 399h1v1h-1zM581 400h1v1h-1zM593 400h1v1h-1zM581 401h1v1h-1zM593 401h1v1h-1zM580 402h15v1h-15z" fill="#FF0000" stroke="none"/>
<path d="M385 517h1v1h-1zM384 518h1v1h-1zM386 518h1v1h-1zM384 519h1v1h-1zM386 519h1v1h-1zM383 520h1v1h-1zM387 520h1v1h-1zM383 521h1v1h-1zM387 521h1v1h-1zM382 522h1v1h-1zM388 522h1v1h-1zM381 523h1v1h-1zM388 523h1v1h-1zM381 524h1v1h-1zM389 524h1v1h-1zM380 525h1v1h-1zM390 525h1v1h-1zM380 526h1v1h-1zM390 526h1v1h-1zM379 527h1v1h-1zM391 527h1v1h-1zM379 528h1v1h-1zM391 528h1v1h-1zM378 529h15v1h-15z" fill="#FF0000" stroke="none"/>
<path d="M403 441h1v1h-1zM402 442h1v1h-1zM404 442h1v1h-1zM402 443h1v1h-1zM404 443h1v1h-1zM401 444h1v1h-1zM405 444h1v1h-1zM401 445h1v1h-1zM406 445h1v1h-1zM400 446h1v1h-1zM406 446h1v1h-1zM399 447h1v1h-1zM407 447h1v1h-1zM399 448h1v1h-1zM408 448h1v1h-1zM398 449h1v1h-1zM408 449h1v1h-1zM398 450h1v1h-1zM409 450h1v1h-1zM397 451h1v1h-1zM410 451h1v1h-1zM397 452h1v1h-1zM410 452h1v1h-1zM396 453h16v1h-16z" fill="#FF0000" stroke="none"/>
<path d="M514 340h1v1h-1zM513 341h1v1h-1zM515 341h1v1h-1zM513 342h1v1h-1zM515 342h1v1h-1zM512 343h1v1h-1zM516 343h1v1h-1zM512 344h1v1h-1zM516 344h1v1h-1zM511 345h1v1h-1zM517 345h1v1h-1zM510 346h1v1h-1zM517 346h1v1h-1zM510 347h1v1h-1zM518 347h1v1h-1zM509 348h1v1h-1zM519 348h1v1h-1zM509 349h1v1h-1zM519 349h1v1h-1zM508 350h1v1h-1zM520 350h1v1h-1zM508 351h1v1h-1zM520 351h1v1h-1zM507 352h15v1h-15z" fill="#FF0000" stroke="none"/>
<path d="M532 390h1v1h-1zM531 391h1v1h-1zM533 391h1v1h-1zM531 392h1v1h-1zM533 392h1v1h-1zM530 393h1v1h-1zM534 393h1v1h-1zM530 394h1v1h-1zM534 394h1v1h-1zM529 395h1v1h-1zM535 395h1v1h-1zM528 396h1v1h-1zM535 396h1v1h-1zM528 397h1v1h-1zM536 397h1v1h-1zM527 398h1v1h-1zM537 398h1v1h-1zM527 399h1v1h-1zM537 399h1v1h-1zM526 400h1v1h-1zM538 400h1v1h-1zM526 401h1v1h-1zM538 401h1v1h-1zM525 402h15v1h-15z" fill="#FF0000" stroke="none"/>
<path d="M753 188h1v1h-1zM752 189h1v1h-1zM754 189h1v1h-1zM752 190h1v1h-1zM754 190h1v1h-1zM751 191h1v1h-1zM755 191h1v1h-1zM751 192h1v1h-1zM755 192h1v1h-1zM750 193h1v1h-1zM756 193h1v1h-1zM749 194h1v1h-1zM756 194h1v1h-1zM749 195h1v1h-1zM757 195h1v1h-1zM748 196h1v1h-1zM758 196h1v1h-1zM748 197h1v1h-1zM758 197h1v1h-1zM747 198h1v1h-1zM759 198h1v1h-1zM747 199h1v1h-1zM759 199h1v1h-1zM746 200h15v1h-15z" fill="#FF0000" stroke="none"/>
<path d="M753 491h1v1h-1zM752 492h1v1h-1zM754 492h1v1h-1zM752 493h1v1h-1zM754 493h1v1h-1zM751 494h1v1h-1zM755 494h1v1h-1zM751 495h1v1h-1zM755 495h1v1h-1zM750 496h1v1h-1zM756 496h1v1h-1zM749 497h1v1h-1zM756 497h1v1h-1zM749 498h1v1h-1zM757 498h1v1h-1zM748 499h1v1h-1zM758 499h1v1h-1zM748 500h1v1h-1zM758 500h1v1h-1zM747 501h1v1h-1zM759 501h1v1h-1zM747 502h1v1h-1zM759 502h1v1h-1zM746 503h15v1h-15z" fill="#FF0000" stroke="none"/>
<path d="M440 592h1v1h-1zM439 593h1v1h-1zM441 593h1v1h-1zM439 594h1v1h-1zM441 594h1v1h-1zM438 595h1v1h-1zM442 595h1v1h-1zM438 596h1v1h-1zM442 596h1v1h-1zM437 597h1v1h-1zM443 597h1v1h-1zM437 598h1v1h-1zM443 598h1v1h-1zM436 599h1v1h-1zM444 599h1v1h-1zM436 600h1v1h-1zM444 600h1v1h-1zM435 601h1v1h-1zM445 601h1v1h-1zM435 602h1v1h-1zM445 602h1v1h-1zM434 603h1v1h-1zM446 603h1v1h-1zM434 604h1v1h-1zM446 604h1v1h-1zM433 605h15v1h-15z" fill="#FF0000" stroke="none"/>
<path d="M606 340h1v1h-1zM605 341h1v1h-1zM607 341h1v1h-1zM605 342h1v1h-1zM607 342h1v1h-1zM604 343h1v1h-1zM608 343h1v1h-1zM604 344h1v1h-1zM608 344h1v1h-1zM603 345h1v1h-1zM609 345h1v1h-1zM602 346h1v1h-1zM609 346h1v1h-1zM602 347h1v1h-1zM610 347h1v1h-1zM601 348h1v1h-1zM611 348h1v1h-1zM601 349h1v1h-1zM611 349h1v1h-1zM600 350h1v1h-1zM612 350h1v1h-1zM600 351h1v1h-1zM612 351h1v1h-1zM599 352h15v1h-15z" fill="#FF0000" stroke="none"/>
<path d="M367 441h1v1h-1zM366 442h1v1h-1zM368 442h1v1h-1zM366 443h1v1h-1zM368 443h1v1h-1zM365 444h1v1h-1zM369 444h1v1h-1zM365 445h1v1h-1zM369 445h1v1h-1zM364 446h1v1h-1zM370 446h1v1h-1zM363 447h1v1h-1zM370 447h1v1h-1zM363 448h1v1h-1zM371 448h1v1h-1zM362 449h1v1h-1zM372 449h1v1h-1zM362 450h1v1h-1zM372 450h1v1h-1zM361 451h1v1h-1zM373 451h1v1h-1zM361 452h1v1h-1zM373 452h1v1h-1zM360 453h15v1h-15z" fill="#FF0000" stroke="none"/>
<path d="M753 441h1v1h-1zM752 442h1v1h-1zM754 442h1v1h-1zM752 443h1v1h-1zM754 443h1v1h-1zM751 444h1v1h-1zM755 444h1v1h-1zM751 445h1v1h-1zM755 445h1v1h-1zM750 446h1v1h-1zM756 446h1v1h-1zM749 447h1v1h-1zM756 447h1v1h-1zM749 448h1v1h-1zM757 448h1v1h-1zM748 449h1v1h-1zM758 449h1v1h-1zM748 450h1v1h-1zM758 450h1v1h-1zM747 451h1v1h-1zM759 451h1v1h-1zM747 452h1v1h-1zM759 452h1v1h-1zM746 453h15v1h-15z" fill="#FF0000" stroke="none"/>
<path d="M495 466h1v1h-1zM494 467h1v1h-1zM496 467h1v1h-1zM494 468h1v1h-1zM496 468h1v1h-1zM493 469h1v1h-1zM497 469h1v1h-1zM493 470h1v1h-1zM497 470h1v1h-1zM492 471h1v1h-1zM498 471h1v1h-1zM491 472h1v1h-1zM498 472h1v1h-1zM491 473h1v1h-1zM499 473h1v1h-1zM490 474h1v1h-1zM500 474h1v1h-1zM490 475h1v1h-1zM500 475h1v1h-1zM489 476h1v1h-1zM501 476h1v1h-1zM489 477h1v1h-1zM501 477h1v1h-1zM488 478h15v1h-15z" fill="#FF0000" stroke="none"/>
<path d="M569 314h1v1h-1zM568 315h1v1h-1zM570 315h1v1h-1zM568 316h1v1h-1zM570 316h1v1h-1zM567 317h1v1h-1zM571 317h1v1h-1zM567 318h1v1h-1zM571 318h1v1h-1zM566 319h1v1h-1zM572 319h1v1h-1zM566 320h1v1h-1zM572 320h1v1h-1zM565 321h1v1h-1zM573 321h1v1h-1zM565 322h1v1h-1zM573 322h1v1h-1zM564 323h1v1h-1zM574 323h1v1h-1zM564 324h1v1h-1zM574 324h1v1h-1zM563 325h1v1h-1zM575 325h1v1h-1zM563 326h1v1h-1zM575 326h1v1h-1zM562 327h15v1h-15z" fill="#FF0000" stroke="none"/>
<path d="M661 340h1v1h-1zM660 341h1v1h-1zM662 341h1v1h-1zM660 342h1v1h-1zM662 342h1v1h-1zM659 343h1v1h-1zM663 343h1v1h-1zM659 344h1v1h-1zM663 344h1v1h-1zM658 345h1v1h-1zM664 345h1v1h-1zM657 346h1v1h-1zM664 346h1v1h-1zM657 347h1v1h-1zM665 347h1v1h-1zM656 348h1v1h-1zM666 348h1v1h-1zM656 349h1v1h-1zM666 349h1v1h-1zM655 350h1v1h-1zM667 350h1v1h-1zM655 351h1v1h-1zM667 351h1v1h-1zM654 352h15v1h-15z" fill="#FF0000" stroke="none"/>
<path d="M477 441h1v1h-1zM476 442h1v1h-1zM478 442h1v1h-1zM476 443h1v1h-1zM478 443h1v1h-1zM475 444h1v1h-1zM479 444h1v1h-1zM475 445h1v1h-1zM479 445h1v1h-1zM474 446h1v1h-1zM480 446h1v1h-1zM473 447h1v1h-1zM480 447h1v1h-1zM473 448h1v1h-1zM481 448h1v1h-1zM472 449h1v1h-1zM482 449h1v1h-1zM472 450h1v1h-1zM482 450h1v1h-1zM471 451h1v1h-1zM483 451h1v1h-1zM471 452h1v1h-1zM483 452h1v1h-1zM470 453h15v1h-15z" fill="#FF0000" stroke="none"/>
<path d="M459 390h1v1h-1zM458 391h1v1h-1zM460 391h1v1h-1zM458 392h1v1h-1zM460 392h1v1h-1zM457 393h1v1h-1zM461 393h1v1h-1zM457 394h1v1h-1zM461 394h1v1h-1zM456 395h1v1h-1zM462 395h1v1h-1zM455 396h1v1h-1zM462 396h1v1h-1zM455 397h1v1h-1zM463 397h1v1h-1zM454 398h1v1h-1zM464 398h1v1h-1zM454 399h1v1h-1zM464 399h1v1h-1zM453 400h1v1h-1zM465 400h1v1h-1zM453 401h1v1h-1zM465 401h1v1h-1zM452 402h15v1h-15z" fill="#FF0000" stroke="none"/>
<path d="M514 441h1v1h-1zM513 442h1v1h-1zM515 442h1v1h-1zM513 443h1v1h-1zM515 443h1v1h-1zM512 444h1v1h-1zM516 444h1v1h-1zM512 445h1v1h-1zM516 445h1v1h-1zM511 446h1v1h-1zM517 446h1v1h-1zM510 447h1v1h-1zM517 447h1v1h-1zM510 448h1v1h-1zM518 448h1v1h-1zM509 449h1v1h-1zM519 449h1v1h-1zM509 450h1v1h-1zM519 450h1v1h-1zM508 451h1v1h-1zM520 451h1v1h-1zM508 452h1v1h-1zM520 452h1v1h-1zM507 453h15v1h-15z" fill="#FF0000" stroke="none"/>
<path d="M661 390h1v1h-1zM660 391h1v1h-1zM662 391h1v1h-1zM660 392h1v1h-1zM662 392h1v1h-1zM659 393h1v1h-1zM663 393h1v1h-1zM659 394h1v1h-1zM663 394h1v1h-1zM658 395h1v1h-1zM664 395h1v1h-1zM657 396h1v1h-1zM664 396h1v1h-1zM657 397h1v1h-1zM665 397h1v1h-1zM656 398h1v1h-1zM666 398h1v1h-1zM656 399h1v1h-1zM666 399h1v1h-1zM655 400h1v1h-1zM667 400h1v1h-1zM655 401h1v1h-1zM667 401h1v1h-1zM654 402h15v1h-15z" fill="#FF0000" stroke="none"/>
<path d="M698 441h1v1h-1zM697 442h1v1h-1zM699 442h1v1h-1zM697 443h1v1h-1zM699 443h1v1h-1zM696 444h1v1h-1zM700 444h1v1h-1zM696 445h1v1h-1zM700 445h1v1h-1zM695 446h1v1h-1zM701 446h1v1h-1zM694 447h1v1h-1zM701 447h1v1h-1zM694 448h1v1h-1zM702 448h1v1h-1zM693 449h1v1h-1zM703 449h1v1h-1zM693 450h1v1h-1zM703 450h1v1h-1zM692 451h1v1h-1zM704 451h1v1h-1zM692 452h1v1h-1zM704 452h1v1h-1zM691 453h15v1h-15z" fill="#FF0000" stroke="none"/>
<path d="M790 188h1v1h-1zM789 189h1v1h-1zM791 189h1v1h-1zM789 190h1v1h-1zM791 190h1v1h-1zM788 191h1v1h-1zM792 191h1v1h-1zM788 192h1v1h-1zM792 192h1v1h-1zM787 193h1v1h-1zM793 193h1v1h-1zM786 194h1v1h-1zM793 194h1v1h-1zM786 195h1v1h-1zM794 195h1v1h-1zM785 196h1v1h-1zM795 196h1v1h-1zM785 197h1v1h-1zM795 197h1v1h-1zM784 198h1v1h-1zM796 198h1v1h-1zM784 199h1v1h-1zM796 199h1v1h-1zM783 200h15v1h-15z" fill="#FF0000" stroke="none"/>
<path d="M514 441h1v1h-1zM513 442h1v1h-1zM515 442h1v1h-1zM513 443h1v1h-1zM515 443h1v1h-1zM512 444h1v1h-1zM516 444h1v1h-1zM512 445h1v1h-1zM516 445h1v1h-1zM511 446h1v1h-1zM517 446h1v1h-1zM510 447h1v1h-1zM517 447h1v1h-1zM510 448h1v1h-1zM518 448h1v1h-1zM509 449h1v1h-1zM519 449h1v1h-1zM509 450h1v1h-1zM519 450h1v1h-1zM508 451h1v1h-1zM520 451h1v1h-1zM508 452h1v1h-1zM520 452h1v1h-1zM507 453h15v1h-15z" fill="#FF0000" stroke="none"/>
<path d="M495 441h1v1h-1zM494 442h1v1h-1zM496 442h1v1h-1zM494 443h1v1h-1zM496 443h1v1h-1zM493 444h1v1h-1zM497 444h1v1h-1zM493 445h1v1h-1zM497 445h1v1h-1zM492 446h1v1h-1zM498 446h1v1h-1zM491 447h1v1h-1zM498 447h1v1h-1zM491 448h1v1h-1zM499 448h1v1h-1zM490 449h1v1h-1zM500 449h1v1h-1zM490 450h1v1h-1zM500 450h1v1h-1zM489 451h1v1h-1zM501 451h1v1h-1zM489 452h1v1h-1zM501 452h1v1h-1zM488 453h15v1h-15z" fill="#FF0000" stroke="none"/>
<path d="M459 491h1v1h-1zM458 492h1v1h-1zM460 492h1v1h-1zM458 493h1v1h-1zM460 493h1v1h-1zM457 494h1v1h-1zM461 494h1v1h-1zM457 495h1v1h-1zM461 495h1v1h-1zM456 496h1v1h-1zM462 496h1v1h-1zM455 497h1v1h-1zM462 497h1v1h-1zM455 498h1v1h-1zM463 498h1v1h-1zM454 499h1v1h-1zM464 499h1v1h-1zM454 500h1v1h-1zM464 500h1v1h-1zM453 501h1v1h-1zM465 501h1v1h-1zM453 502h1v1h-1zM465 502h1v1h-1zM452 503h15v1h-15z" fill="#FF0000" stroke="none"/>
<path d="M753 390h1v1h-1zM752 391h1v1h-1zM754 391h1v1h-1zM752 392h1v1h-1zM754 392h1v1h-1zM751 393h1v1h-1zM755 393h1v1h-1zM751 394h1v1h-1zM755 394h1v1h-1zM750 395h1v1h-1zM756 395h1v1h-1zM749 396h1v1h-1zM756 396h1v1h-1zM749 397h1v1h-1zM757 397h1v1h-1zM748 398h1v1h-1zM758 398h1v1h-1zM748 399h1v1h-1zM758 399h1v1h-1zM747 400h1v1h-1zM759 400h1v1h-1zM747 401h1v1h-1zM759 401h1v1h-1zM746 402h15v1h-15z" fill="#FF0000" stroke="none"/>
<path d="M495 289h1v1h-1zM494 290h1v1h-1zM496 290h1v1h-1zM494 291h1v1h-1zM496 291h1v1h-1zM493 292h1v1h-1zM497 292h1v1h-1zM493 293h1v1h-1zM497 293h1v1h-1zM492 294h1v1h-1zM498 294h1v1h-1zM491 295h1v1h-1zM498 295h1v1h-1zM491 296h1v1h-1zM499 296h1v1h-1zM490 297h1v1h-1zM500 297h1v1h-1zM490 298h1v1h-1zM500 298h1v1h-1zM489 299h1v1h-1zM501 299h1v1h-1zM489 300h1v1h-1zM501 300h1v1h-1zM488 301h15v1h-15z" fill="#FF0000" stroke="none"/>
<path d="M514 365h1v1h-1zM513 366h1v1h-1zM515 366h1v1h-1zM513 367h1v1h-1zM515 367h1v1h-1zM512 368h1v1h-1zM516 368h1v1h-1zM512 369h1v1h-1zM516 369h1v1h-1zM511 370h1v1h-1zM517 370h1v1h-1zM510 371h1v1h-1zM517 371h1v1h-1zM510 372h1v1h-1zM518 372h1v1h-1zM509 373h1v1h-1zM519 373h1v1h-1zM509 374h1v1h-1zM519 374h1v1h-1zM508 375h1v1h-1zM520 375h1v1h-1zM508 376h1v1h-1zM520 376h1v1h-1zM507 377h15v1h-15z" fill="#FF0000" stroke="none"/>
<path d="M440 390h1v1h-1zM439 391h1v1h-1zM441 391h1v1h-1zM439 392h1v1h-1zM441 392h1v1h-1zM438 393h1v1h-1zM442 393h1v1h-1zM438 394h1v1h-1zM442 394h1v1h-1zM437 395h1v1h-1zM443 395h1v1h-1zM436 396h1v1h-1zM443 396h1v1h-1zM436 397h1v1h-1zM444 397h1v1h-1zM435 398h1v1h-1zM445 398h1v1h-1zM435 399h1v1h-1zM445 399h1v1h-1zM434 400h1v1h-1zM446 400h1v1h-1zM434 401h1v1h-1zM446 401h1v1h-1zM433 402h15v1h-15z" fill="#FF0000" stroke="none"/>
<path d="M606 365h1v1h-1zM605 366h1v1h-1zM607 366h1v1h-1zM605 367h1v1h-1zM607 367h1v1h-1zM604 368h1v1h-1zM608 368h1v1h-1zM604 369h1v1h-1zM608 369h1v1h-1zM603 370h1v1h-1zM609 370h1v1h-1zM602 371h1v1h-1zM609 371h1v1h-1zM602 372h1v1h-1zM610 372h1v1h-1zM601 373h1v1h-1zM611 373h1v1h-1zM601 374h1v1h-1zM611 374h1v1h-1zM600 375h1v1h-1zM612 375h1v1h-1zM600 376h1v1h-1zM612 376h1v1h-1zM599 377h15v1h-15z" fill="#FF0000" stroke="none"/>
<path d="M569 365h1v1h-1zM568 366h1v1h-1zM570 366h1v1h-1zM568 367h1v1h-1zM570 367h1v1h-1zM567 368h1v1h-1zM571 368h1v1h-1zM567 369h1v1h-1zM571 369h1v1h-1zM566 370h1v1h-1zM572 370h1v1h-1zM565 371h1v1h-1zM572 371h1v1h-1zM565 372h1v1h-1zM573 372h1v1h-1zM564 373h1v1h-1zM574 373h1v1h-1zM564 374h1v1h-1zM574 374h1v1h-1zM563 375h1v1h-1zM575 375h1v1h-1zM563 376h1v1h-1zM575 376h1v1h-1zM562 377h15v1h-15z" fill="#FF0000" stroke="none"/>
<path d="M606 365h1v1h-1zM605 366h1v1h-1zM607 366h1v1h-1zM605 367h1v1h-1zM607 367h1v1h-1zM604 368h1v1h-1zM608 368h1v1h-1zM604 369h1v1h-1zM608 369h1v1h-1zM603 370h1v1h-1zM609 370h1v1h-1zM602 371h1v1h-1zM609 371h1v1h-1zM602 372h1v1h-1zM610 372h1v1h-1zM601 373h1v1h-1zM611 373h1v1h-1zM601 374h1v1h-1zM611 374h1v1h-1zM600 375h1v1h-1zM612 375h1v1h-1zM600 376h1v1h-1zM612 376h1v1h-1zM599 377h15v1h-15z" fill="#FF0000" stroke="none"/>
<path d="M403 466h1v1h-1zM402 467h1v1h-1zM404 467h1v1h-1zM402 468h1v1h-1zM404 468h1v1h-1zM401 469h1v1h-1zM405 469h1v1h-1zM401 470h1v1h-1zM406 470h1v1h-1zM400 471h1v1h-1zM406 471h1v1h-1zM399 472h1v1h-1zM407 472h1v1h-1zM399 473h1v1h-1zM408 473h1v1h-1zM398 474h1v1h-1zM408 474h1v1h-1zM398 475h1v1h-1zM409 475h1v1h-1zM397 476h1v1h-1zM410 476h1v1h-1zM397 477h1v1h-1zM410 477h1v1h-1zM396 478h16v1h-16z" fill="#FF0000" stroke="none"/>
<path d="M587 340h1v1h-1zM586 341h1v1h-1zM588 341h1v1h-1zM586 342h1v1h-1zM588 342h1v1h-1zM585 343h1v1h-1zM589 343h1v1h-1zM585 344h1v1h-1zM589 344h1v1h-1zM584 345h1v1h-1zM590 345h1v1h-1zM583 346h1v1h-1zM590 346h1v1h-1zM583 347h1v1h-1zM591 347h1v1h-1zM582 348h1v1h-1zM592 348h1v1h-1zM582 349h1v1h-1zM592 349h1v1h-1zM581 350h1v1h-1zM593 350h1v1h-1zM581 351h1v1h-1zM593 351h1v1h-1zM580 352h15v1h-15z" fill="#FF0000" stroke="none"/>
<path d="M569 314h1v1h-1zM568 315h1v1h-1zM570 315h1v1h-1zM568 316h1v1h-1zM570 316h1v1h-1zM567 317h1v1h-1zM571 317h1v1h-1zM567 318h1v1h-1zM571 318h1v1h-1zM566 319h1v1h-1zM572 319h1v1h-1zM566 320h1v1h-1zM572 320h1v1h-1zM565 321h1v1h-1zM573 321h1v1h-1zM565 322h1v1h-1zM573 322h1v1h-1zM564 323h1v1h-1zM574 323h1v1h-1zM564 324h1v1h-1zM574 324h1v1h-1zM563 325h1v1h-1zM575 325h1v1h-1zM563 326h1v1h-1zM575 326h1v1h-1zM562 327h15v1h-15z" fill="#FF0000" stroke="none"/>
<path d="M569 390h1v1h-1zM568 391h1v1h-1zM570 391h1v1h-1zM568 392h1v1h-1zM570 392h1v1h-1zM567 393h1v1h-1zM571 393h1v1h-1zM567 394h1v1h-1zM571 394h1v1h-1zM566 395h1v1h-1zM572 395h1v1h-1zM565 396h1v1h-1zM572 396h1v1h-1zM565 397h1v1h-1zM573 397h1v1h-1zM564 398h1v1h-1zM574 398h1v1h-1zM564 399h1v1h-1zM574 399h1v1h-1zM563 400h1v1h-1zM575 400h1v1h-1zM563 401h1v1h-1zM575 401h1v1h-1zM562 402h15v1h-15z" fill="#FF0000" stroke="none"/>
<path d="M495 517h1v1h-1zM494 518h1v1h-1zM496 518h1v1h-1zM494 519h1v1h-1zM496 519h1v1h-1zM493 520h1v1h-1zM497 520h1v1h-1zM493 521h1v1h-1zM497 521h1v1h-1zM492 522h1v1h-1zM498 522h1v1h-1zM491 523h1v1h-1zM498 523h1v1h-1zM491 524h1v1h-1zM499 524h1v1h-1zM490 525h1v1h-1zM500 525h1v1h-1zM490 526h1v1h-1zM500 526h1v1h-1zM489 527h1v1h-1zM501 527h1v1h-1zM489 528h1v1h-1zM501 528h1v1h-1zM488 529h15v1h-15z" fill="#FF0000" stroke="none"/>
<path d="M532 390h1v1h-1zM531 391h1v1h-1zM533 391h1v1h-1zM531 392h1v1h-1zM533 392h1v1h-1zM530 393h1v1h-1zM534 393h1v1h-1zM530 394h1v1h-1zM534 394h1v1h-1zM529 395h1v1h-1zM535 395h1v1h-1zM528 396h1v1h-1zM535 396h1v1h-1zM528 397h1v1h-1zM536 397h1v1h-1zM527 398h1v1h-1zM537 398h1v1h-1zM527 399h1v1h-1zM537 399h1v1h-1zM526 400h1v1h-1zM538 400h1v1h-1zM526 401h1v1h-1zM538 401h1v1h-1zM525 402h15v1h-15z" fill="#FF0000" stroke="none"/>
<path d="M477 289h1v1h-1zM476 290h1v1h-1zM478 290h1v1h-1zM476 291h1v1h-1zM478 291h1v1h-1zM475 292h1v1h-1zM479 292h1v1h-1zM475 293h1v1h-1zM479 293h1v1h-1zM474 294h1v1h-1zM480 294h1v1h-1zM473 295h1v1h-1zM480 295h1v1h-1zM473 296h1v1h-1zM481 296h1v1h-1zM472 297h1v1h-1zM482 297h1v1h-1zM472 298h1v1h-1zM482 298h1v1h-1zM471 299h1v1h-1zM483 299h1v1h-1zM471 300h1v1h-1zM483 300h1v1h-1zM470 301h15v1h-15z" fill="#FF0000" stroke="none"/>
<path d="M422 390h1v1h-1zM421 391h1v1h-1zM423 391h1v1h-1zM421 392h1v1h-1zM423 392h1v1h-1zM420 393h1v1h-1zM424 393h1v1h-1zM420 394h1v1h-1zM424 394h1v1h-1zM419 395h1v1h-1zM425 395h1v1h-1zM418 396h1v1h-1zM425 396h1v1h-1zM418 397h1v1h-1zM426 397h1v1h-1zM417 398h1v1h-1zM427 398h1v1h-1zM417 399h1v1h-1zM427 399h1v1h-1zM416 400h1v1h-1zM428 400h1v1h-1zM416 401h1v1h-1zM428 401h1v1h-1zM415 402h15v1h-15z" fill="#FF0000" stroke="none"/>
</g>
<text x="867.3" y="164" font-size="29.33px" fill="#000" stroke="#000" stroke-width="0.3" textLength="57.7" lengthAdjust="spacingAndGlyphs">New</text>
<rect x="867" y="180" width="46" height="139" fill="#EBEBEB" shape-rendering="crispEdges"/>
<g shape-rendering="crispEdges"><path d="M888 198h4v1h-4zM887 199h6v1h-6zM886 200h8v1h-8zM885 201h10v1h-10zM885 202h10v1h-10zM885 203h10v1h-10zM885 204h10v1h-10zM886 205h8v1h-8zM887 206h6v1h-6zM888 207h4v1h-4z" fill="#0000FF"/></g>
<text x="927.1" y="213" font-size="23.47px" fill="#000" stroke="#000" stroke-width="0.25" textLength="68.1" lengthAdjust="spacingAndGlyphs">setosa</text>
<g shape-rendering="crispEdges"><path d="M888 244h4v1h-4zM887 245h6v1h-6zM886 246h8v1h-8zM885 247h10v1h-10zM885 248h10v1h-10zM885 249h10v1h-10zM885 250h10v1h-10zM886 251h8v1h-8zM887 252h6v1h-6zM888 253h4v1h-4z" fill="#00FF00"/></g>
<text x="927.1" y="259" font-size="23.47px" fill="#000" stroke="#000" stroke-width="0.25" textLength="98.2" lengthAdjust="spacingAndGlyphs">versicolor</text>
<g shape-rendering="crispEdges"><path d="M888 291h4v1h-4zM887 292h6v1h-6zM886 293h8v1h-8zM885 294h10v1h-10zM885 295h10v1h-10zM885 296h10v1h-10zM885 297h10v1h-10zM886 298h8v1h-8zM887 299h6v1h-6zM888 300h4v1h-4z" fill="#FF0000"/></g>
<text x="927.1" y="305.8" font-size="23.47px" fill="#000" stroke="#000" stroke-width="0.25" textLength="82.6" lengthAdjust="spacingAndGlyphs">virginica</text>
<text x="867.3" y="403" font-size="29.33px" fill="#000" stroke="#000" stroke-width="0.3" textLength="40.4" lengthAdjust="spacingAndGlyphs">Bla</text>
<rect x="867" y="420" width="46" height="138" fill="#EBEBEB" shape-rendering="crispEdges"/>
<g fill="none" stroke-width="1" shape-rendering="crispEdges"><rect x="884.5" y="437.5" width="11" height="11" stroke="#000"/></g>
<text x="927.1" y="452.6" font-size="23.47px" fill="#000" stroke="#000" stroke-width="0.25" textLength="68.1" lengthAdjust="spacingAndGlyphs">setosa</text>
<g fill="none" stroke-width="1" shape-rendering="crispEdges"><path d="M889 484h2v1h-2zM887 485h2v1h-2zM891 485h2v1h-2zM886 486h1v1h-1zM893 486h1v1h-1zM886 487h1v1h-1zM893 487h1v1h-1zM885 488h1v1h-1zM894 488h1v1h-1zM885 489h1v1h-1zM894 489h1v1h-1zM886 490h1v1h-1zM893 490h1v1h-1zM886 491h1v1h-1zM893 491h1v1h-1zM887 492h2v1h-2zM891 492h2v1h-2zM889 493h2v1h-2z" fill="#000" stroke="none"/></g>
<text x="927.1" y="498.6" font-size="23.47px" fill="#000" stroke="#000" stroke-width="0.25" textLength="98.2" lengthAdjust="spacingAndGlyphs">versicolor</text>
<g fill="none" stroke-width="1" shape-rendering="crispEdges"><path d="M890 527h1v1h-1zM889 528h1v1h-1zM891 528h1v1h-1zM889 529h1v1h-1zM891 529h1v1h-1zM888 530h1v1h-1zM892 530h1v1h-1zM888 531h1v1h-1zM892 531h1v1h-1zM887 532h1v1h-1zM893 532h1v1h-1zM886 533h1v1h-1zM893 533h1v1h-1zM886 534h1v1h-1zM894 534h1v1h-1zM885 535h1v1h-1zM895 535h1v1h-1zM885 536h1v1h-1zM895 536h1v1h-1zM884 537h1v1h-1zM896 537h1v1h-1zM884 538h1v1h-1zM896 538h1v1h-1zM883 539h15v1h-15z" fill="#000" stroke="none"/></g>
<text x="927.1" y="545" font-size="23.47px" fill="#000" stroke="#000" stroke-width="0.25" textLength="82.6" lengthAdjust="spacingAndGlyphs">virginica</text>
</svg></body></html>
